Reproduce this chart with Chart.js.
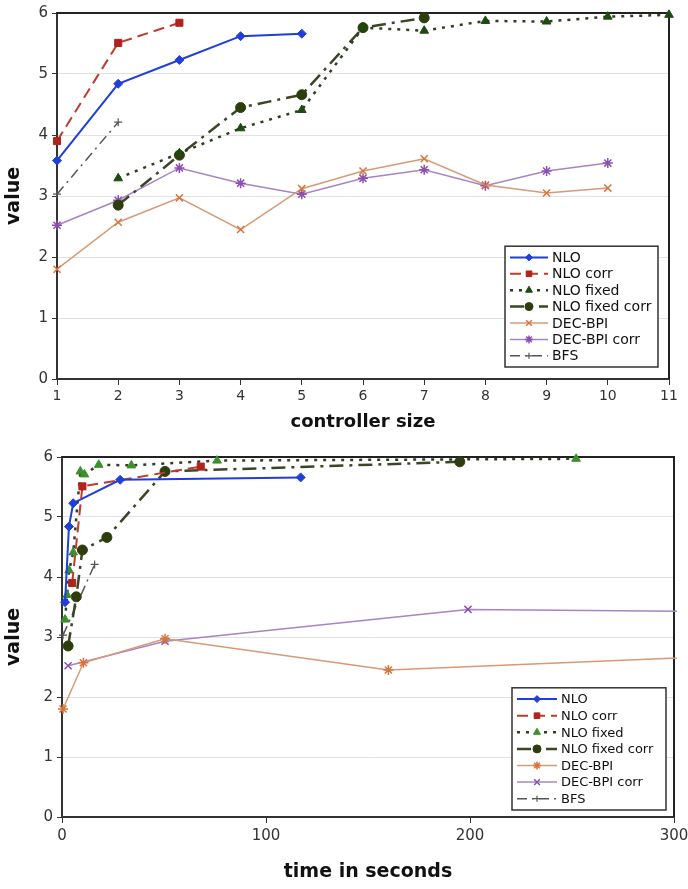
<!DOCTYPE html>
<html>
<head>
<meta charset="utf-8">
<script src="https://cdn.jsdelivr.net/npm/chart.js@4.4.0/dist/chart.umd.min.js"></script>
<style>
  body { margin: 0; background: #fff; }
  #wrap { position: relative; width: 688px; height: 889px; }
  canvas { position: absolute; left: 0; }
</style>
</head>
<body>
<div id="wrap">
  <canvas id="sizeChart" width="688" height="445" style="top:0"></canvas>
  <canvas id="timeChart" width="688" height="444" style="top:445px"></canvas>
</div>
<script>
// series names
const seriesLabels = ['NLO', 'NLO corr', 'NLO fixed', 'NLO fixed corr', 'DEC-BPI', 'DEC-BPI corr', 'BFS'];

// top chart: value by controller size
const nloSizes = [1, 2, 3, 4, 5];
const nloValues = [3.58, 4.84, 5.23, 5.62, 5.66];
const nloCorrSizes = [1, 2, 3];
const nloCorrValues = [3.90, 5.51, 5.84];
const nloFixedSizes = [2, 3, 4, 5, 6, 7, 8, 9, 10, 11];
const nloFixedValues = [3.29, 3.70, 4.11, 4.41, 5.76, 5.71, 5.87, 5.86, 5.94, 5.97];
const nloFixedCorrSizes = [2, 3, 4, 5, 6, 7];
const nloFixedCorrValues = [2.85, 3.67, 4.45, 4.66, 5.76, 5.92];
const decBpiSizes = [1, 2, 3, 4, 5, 6, 7, 8, 9, 10];
const decBpiValues = [1.80, 2.57, 2.97, 2.45, 3.12, 3.41, 3.61, 3.18, 3.05, 3.13];
const decBpiCorrSizes = [1, 2, 3, 4, 5, 6, 7, 8, 9, 10];
const decBpiCorrValues = [2.52, 2.93, 3.46, 3.21, 3.03, 3.29, 3.43, 3.17, 3.41, 3.54];
const bfsSizes = [1, 2];
const bfsValues = [3.03, 4.21];

// bottom chart: run time (seconds) of the same runs
const nloTimes = [1.5, 3.4, 5.5, 28.5, 117];
const nloCorrTimes = [5, 10, 68];
const nloFixedTimes = [1.5, 2.5, 3.5, 5.5, 9, 11, 18, 34, 76, 252];
const nloFixedCorrTimes = [3, 7, 10, 22, 50.5, 195];
const decBpiTimes = [0.5, 10.5, 50.5, 160, 630];
const decBpiCorrTimes = [3, 50.5, 199, 1000];
const bfsTimes = [0.5, 16];

const sizeTicks = [1, 2, 3, 4, 5, 6, 7, 8, 9, 10, 11];
const timeTicks = [0, 100, 200, 300];
const valueTicks = [0, 1, 2, 3, 4, 5, 6];

function pts(xs, ys) {
  return xs.map((x, i) => ({ x: x, y: ys[i] }));
}

const FONT = "'DejaVu Sans', Verdana, sans-serif";

function styles(fixedMarker, decMarker, decCorrMarker) {
  return [
    { borderColor: '#1f3fd8', borderWidth: 2, borderDash: [], pointStyle: 'rectRot', pointRadius: 4.5,
      pointBackgroundColor: '#1f3fd8', pointBorderColor: '#1f3fd8', pointBorderWidth: 1 },
    { borderColor: '#bf3b2c', borderWidth: 2, borderDash: [11, 6], pointStyle: 'rect', pointRadius: 5,
      pointBackgroundColor: '#b0231a', pointBorderColor: '#b0231a', pointBorderWidth: 1 },
    { borderColor: '#2f3d22', borderWidth: 2.5, borderDash: [3, 6], pointStyle: 'triangle', pointRadius: 5,
      pointBackgroundColor: fixedMarker, pointBorderColor: fixedMarker, pointBorderWidth: 1 },
    { borderColor: '#3a4626', borderWidth: 2.5, borderDash: [14, 6, 3, 6], pointStyle: 'circle', pointRadius: 5,
      pointBackgroundColor: '#2e3d0e', pointBorderColor: '#2e3d0e', pointBorderWidth: 1 },
    { borderColor: '#d79a76', borderWidth: 1.5, borderDash: [], pointStyle: decMarker, pointRadius: 5,
      pointBackgroundColor: '#d9733c', pointBorderColor: '#d9733c', pointBorderWidth: 1.5 },
    { borderColor: '#a884c4', borderWidth: 1.5, borderDash: [], pointStyle: decCorrMarker, pointRadius: 5,
      pointBackgroundColor: '#8d4fae', pointBorderColor: '#8d4fae', pointBorderWidth: 1.5 },
    { borderColor: '#555555', borderWidth: 1.5, borderDash: [10, 5, 2, 5], pointStyle: 'cross', pointRadius: 4,
      pointBackgroundColor: '#555555', pointBorderColor: '#555555', pointBorderWidth: 1.2 }
  ];
}

// frame on top and right, plus a boxed legend inside the plot area
const framePlugin = {
  id: 'frame',
  beforeDatasetsDraw(chart) {
    const a = chart.chartArea, ctx = chart.ctx;
    ctx.save();
    ctx.strokeStyle = '#222';
    ctx.lineWidth = 2;
    ctx.beginPath();
    ctx.moveTo(a.left, a.top);
    ctx.lineTo(a.right, a.top);
    ctx.lineTo(a.right, a.bottom);
    ctx.stroke();
    ctx.restore();
  },
  afterDraw(chart, args, opts) {
    const a = chart.chartArea, ctx = chart.ctx;
    const sets = chart.data.datasets;
    const h = sets.length * opts.row + 6;
    const x0 = a.right - opts.right - opts.width;
    const y0 = a.bottom - opts.bottom - h;
    ctx.save();
    ctx.fillStyle = '#fff';
    ctx.fillRect(x0, y0, opts.width, h);
    ctx.strokeStyle = '#333';
    ctx.lineWidth = 1.5;
    ctx.strokeRect(x0, y0, opts.width, h);
    ctx.font = opts.font;
    ctx.textBaseline = 'middle';
    sets.forEach((ds, i) => {
      const y = y0 + 3 + opts.row * (i + 0.5);
      const lx = x0 + 5;
      ctx.save();
      ctx.strokeStyle = ds.borderColor;
      ctx.lineWidth = ds.borderWidth;
      ctx.setLineDash(ds.borderDash || []);
      ctx.beginPath();
      ctx.moveTo(lx, y);
      ctx.lineTo(lx + opts.sample, y);
      ctx.stroke();
      ctx.setLineDash([]);
      ctx.fillStyle = ds.pointBackgroundColor;
      ctx.strokeStyle = ds.pointBorderColor;
      ctx.lineWidth = ds.pointBorderWidth;
      Chart.helpers.drawPoint(ctx, { pointStyle: ds.pointStyle, rotation: 0, radius: ds.pointRadius - 1,
        borderWidth: ds.pointBorderWidth }, lx + opts.sample / 2, y);
      ctx.restore();
      ctx.fillStyle = '#111';
      ctx.fillText(ds.label, lx + opts.sample + 4, y + 1);
    });
    ctx.restore();
  }
};

function makeChart(id, xsList, ysList, markerStyles, xCfg, layout, legendCfg) {
  const sets = seriesLabels.map((label, i) => Object.assign({
    label: label,
    data: pts(xsList[i], ysList[i]),
    fill: false,
    tension: 0,
    clip: xCfg.clip
  }, markerStyles[i]));

  return new Chart(document.getElementById(id), {
    type: 'line',
    data: { datasets: sets },
    plugins: [framePlugin],
    options: {
      responsive: false,
      animation: false,
      devicePixelRatio: 1,
      layout: { padding: layout.padding },
      plugins: {
        legend: { display: false },
        tooltip: { enabled: false },
        frame: legendCfg
      },
      scales: {
        x: {
          type: 'linear',
          min: xCfg.min,
          max: xCfg.max,
          afterBuildTicks: (s) => { s.ticks = xCfg.ticks.map(v => ({ value: v })); },
          afterFit: (s) => { s.height = layout.xHeight; s.paddingRight = 0; s.paddingLeft = 0; },
          ticks: { font: { family: FONT, size: xCfg.tickSize }, color: '#333', padding: xCfg.tickPad, maxRotation: 0 },
          grid: { drawOnChartArea: false, color: '#333', tickLength: 6 },
          border: { color: '#333', width: 2 },
          title: { display: true, text: xCfg.title, color: '#111', padding: 0,
            font: { family: FONT, size: xCfg.titleSize, weight: 'bold' } }
        },
        y: {
          min: 0,
          max: 6,
          afterBuildTicks: (s) => { s.ticks = valueTicks.map(v => ({ value: v })); },
          afterFit: (s) => { s.width = layout.yWidth; s.paddingTop = 0; s.paddingBottom = 0; },
          ticks: { font: { family: FONT, size: 15 }, color: '#333', padding: 4 },
          grid: { color: '#e2e2e2', tickColor: '#333', tickLength: 5 },
          border: { color: '#333', width: 2 },
          title: { display: true, text: 'value', color: '#111', padding: 0,
            font: { family: FONT, size: 19, weight: 'bold' } }
        }
      }
    }
  });
}

makeChart('sizeChart',
  [nloSizes, nloCorrSizes, nloFixedSizes, nloFixedCorrSizes, decBpiSizes, decBpiCorrSizes, bfsSizes],
  [nloValues, nloCorrValues, nloFixedValues, nloFixedCorrValues, decBpiValues, decBpiCorrValues, bfsValues],
  styles('#1d4a10', 'crossRot', 'star'),
  { min: 1, max: 11, ticks: sizeTicks, title: 'controller size', titleSize: 18, tickSize: 14, tickPad: 3, clip: false },
  { padding: { left: 3, top: 13, right: 19, bottom: 12 }, xHeight: 54, yWidth: 54 },
  { width: 153, row: 16.4, right: 11, bottom: 12, sample: 38, font: '14px ' + FONT }
);

const timeLists = [nloTimes, nloCorrTimes, nloFixedTimes, nloFixedCorrTimes, decBpiTimes, decBpiCorrTimes, bfsTimes];
makeChart('timeChart',
  timeLists,
  [nloValues, nloCorrValues, nloFixedValues, nloFixedCorrValues, decBpiValues, decBpiCorrValues, bfsValues]
    .map((v, i) => v.slice(0, timeLists[i].length)),
  styles('#3c8f2a', 'star', 'crossRot'),
  { min: 0, max: 300, ticks: timeTicks, title: 'time in seconds', titleSize: 19, tickSize: 15, tickPad: 4,
    clip: { left: 10, top: 10, right: 3, bottom: 10 } },
  { padding: { left: 3, top: 12, right: 14, bottom: 6 }, xHeight: 66, yWidth: 59 },
  { width: 154, row: 16.6, right: 8, bottom: 7, sample: 40, font: '13px ' + FONT }
);
</script>
</body>
</html>
